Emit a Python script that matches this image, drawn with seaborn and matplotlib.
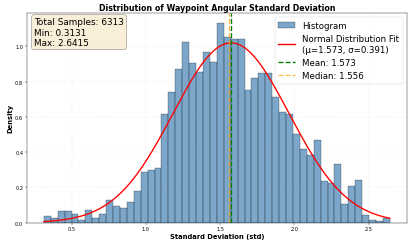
import numpy as np
import pandas as pd
import seaborn as sns
import matplotlib
matplotlib.use('Agg')
import matplotlib.pyplot as plt


# summary stats printed on the chart
n_samples = 6313
std_min = 0.3131
std_max = 2.6415
mu = 1.573
sigma = 0.391
median = 1.556
n_bins = 50

# bar heights (density), left to right
density = [
    0.036, 0.024, 0.068, 0.068, 0.051, 0.015, 0.074, 0.023, 0.051, 0.126,
    0.094, 0.085, 0.119, 0.181, 0.288, 0.300, 0.308, 0.618, 0.744, 0.872,
    1.027, 0.908, 0.857, 0.971, 0.914, 1.133, 1.056, 1.042, 1.045, 0.750,
    0.821, 0.848, 0.848, 0.714, 0.626, 0.618, 0.504, 0.415, 0.385, 0.470,
    0.234, 0.223, 0.334, 0.104, 0.206, 0.240, 0.040, 0.015, 0.007, 0.028,
]

edges = np.linspace(std_min, std_max, n_bins + 1)
df = pd.DataFrame({'std': (edges[:-1] + edges[1:]) / 2, 'density': density})

fig, ax = plt.subplots(figsize=(12, 7.142), dpi=34.583)
fig.subplots_adjust(left=0.064, right=0.981, top=0.943, bottom=0.095)

sns.histplot(df, x='std', weights='density', bins=n_bins, binrange=(std_min, std_max),
             color='steelblue', alpha=0.7, edgecolor='black', linewidth=0.5,
             label='Histogram', ax=ax)

# normal fit
xs = np.linspace(std_min, std_max, 200)
pdf = np.exp(-0.5 * ((xs - mu) / sigma) ** 2) / (sigma * np.sqrt(2 * np.pi))
sns.lineplot(x=xs, y=pdf, color='red', linewidth=2.8,
             label=f'Normal Distribution Fit\n(μ={mu:.3f}, σ={sigma:.3f})', ax=ax)

ax.axvline(mu, color='green', linestyle='--', linewidth=2.8, label=f'Mean: {mu:.3f}')
ax.axvline(median, color='orange', linestyle='--', linewidth=2.8, alpha=0.7,
           label=f'Median: {median:.3f}')

ax.set_title('Distribution of Waypoint Angular Standard Deviation', fontsize=16.5, fontweight='bold')
ax.set_xlabel('Standard Deviation (std)', fontsize=14, fontweight='bold')
ax.set_ylabel('Density', fontsize=14, fontweight='bold')
ax.tick_params(labelsize=10.5)
ax.grid(True, alpha=0.3, linestyle='--')

handles, labels = ax.get_legend_handles_labels()
order = [labels.index('Histogram')] + [i for i, l in enumerate(labels) if l != 'Histogram']
ax.legend([handles[i] for i in order], [labels[i] for i in order],
          loc='upper right', fontsize=18)

stats = f'Total Samples: {n_samples}\nMin: {std_min:.4f}\nMax: {std_max:.4f}'
ax.text(0.02, 0.98, stats, transform=ax.transAxes, fontsize=18.5, va='top',
        bbox=dict(boxstyle='round', facecolor='wheat', alpha=0.5))

plt.savefig('out.png')
